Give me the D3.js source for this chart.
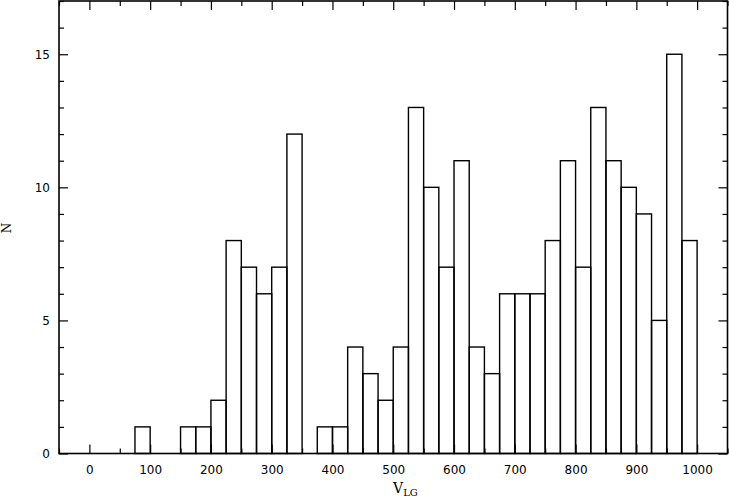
<!DOCTYPE html>
<html><head><meta charset="utf-8">
<script src="https://cdn.jsdelivr.net/npm/d3@7"></script>
<style>body{margin:0;background:#fff}</style>
</head><body>
<svg id="c" width="729" height="500"></svg>
<script>
const binStarts = [75,100,125,150,175,200,225,250,275,300,325,350,375,400,425,450,475,500,525,550,575,600,625,650,675,700,725,750,775,800,825,850,875,900,925,950,975];
const counts    = [1,0,0,1,1,2,8,7,6,7,12,0,1,1,4,3,2,4,13,10,7,11,4,3,6,6,6,8,11,7,13,11,10,9,5,15,8];
const binWidth = 25;
const xTicks = [0,100,200,300,400,500,600,700,800,900,1000];
const yTicks = [0,5,10,15];

(function(){
const svg = d3.select("#c");
const L=59, R=727.5, T=1, B=453.5;
const x = d3.scaleLinear().domain([-50,1050]).range([L,R]);
const y = d3.scaleLinear().domain([0,17]).range([B,T]);

// bars
svg.append("g").selectAll("rect").data(binStarts.map((s,i)=>({s,c:counts[i]})).filter(d=>d.c>0))
  .join("rect")
  .attr("x",d=>x(d.s)).attr("width",d=>x(d.s+binWidth)-x(d.s))
  .attr("y",d=>y(d.c)).attr("height",d=>y(0)-y(d.c))
  .attr("fill","none").attr("stroke","#000").attr("stroke-width",1.4);

const tickFont = "'DejaVu Sans', sans-serif";
const xMinor = d3.range(-50,1051,50).filter(v=>v%100!==0);
const yMinor = d3.range(0,18).filter(v=>v%5!==0);
const axBottom = d3.axisBottom(x).tickValues(xTicks).tickSize(-9).tickPadding(12).tickFormat(d3.format("d"));
const axBottomMinor = d3.axisBottom(x).tickValues(xMinor).tickSize(-5).tickFormat("");
const axTop = d3.axisTop(x).tickValues(xTicks).tickSize(-9).tickFormat("");
const axTopMinor = d3.axisTop(x).tickValues(xMinor).tickSize(-5).tickFormat("");
const axLeft = d3.axisLeft(y).tickValues(yTicks).tickSize(-9).tickPadding(9).tickFormat(d3.format("d"));
const axLeftMinor = d3.axisLeft(y).tickValues(yMinor).tickSize(-5).tickFormat("");
const axRight = d3.axisRight(y).tickValues(yTicks).tickSize(-9).tickFormat("");
const axRightMinor = d3.axisRight(y).tickValues(yMinor).tickSize(-5).tickFormat("");

function style(g){
  g.select(".domain").remove();
  g.selectAll("line").attr("stroke","#000").attr("stroke-width",1.2);
  g.selectAll("text").attr("font-family",tickFont).attr("font-size",12).attr("fill","#000");
}
svg.append("g").attr("transform",`translate(0,${B})`).call(axBottom).call(style);
svg.append("g").attr("transform",`translate(0,${B})`).call(axBottomMinor).call(style);
svg.append("g").attr("transform",`translate(0,${T})`).call(axTop).call(style);
svg.append("g").attr("transform",`translate(0,${T})`).call(axTopMinor).call(style);
svg.append("g").attr("transform",`translate(${L},0)`).call(axLeft).call(style);
svg.append("g").attr("transform",`translate(${L},0)`).call(axLeftMinor).call(style);
svg.append("g").attr("transform",`translate(${R},0)`).call(axRight).call(style);
svg.append("g").attr("transform",`translate(${R},0)`).call(axRightMinor).call(style);

// frame
svg.append("rect").attr("x",L).attr("y",T).attr("width",R-L).attr("height",B-T)
  .attr("fill","none").attr("stroke","#000").attr("stroke-width",1.6);

// labels
const xl = svg.append("text").attr("x",393).attr("y",493).attr("font-family","'DejaVu Serif', serif").attr("font-size",14).attr("fill","#000");
xl.append("tspan").text("V");
xl.append("tspan").attr("dy",3).attr("font-size",10).text("LG");
svg.append("text").attr("transform","translate(11,228) rotate(-90)").attr("text-anchor","middle")
  .attr("font-family","'DejaVu Serif', serif").attr("font-size",12).attr("fill","#000").text("N");
})();
</script>
</body></html>
